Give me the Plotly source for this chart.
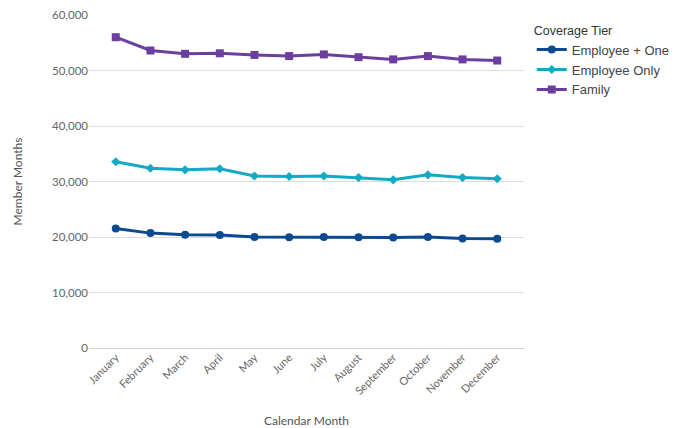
import plotly.graph_objects as go

months = ["January", "February", "March", "April", "May", "June", "July",
          "August", "September", "October", "November", "December"]
emp_plus_one = [21550, 20700, 20400, 20350, 20000, 19950, 20000, 19950, 19900, 20000, 19750, 19700]
emp_only = [33550, 32400, 32100, 32300, 31000, 30900, 31000, 30700, 30300, 31200, 30700, 30500]
family = [56000, 53600, 53000, 53100, 52800, 52600, 52900, 52400, 52000, 52600, 52000, 51800]

series = [
    ("Employee + One", emp_plus_one, "#0b4a8f", "circle", 8),
    ("Employee Only", emp_only, "#14a9c4", "diamond", 7),
    ("Family", family, "#6b3fa0", "square", 8),
]

fig = go.Figure()
for name, vals, color, sym, size in series:
    fig.add_trace(go.Scatter(
        x=months, y=vals, name=name, mode="lines+markers",
        line=dict(color=color, width=3),
        marker=dict(symbol=sym, size=size, color=color),
    ))

fig.update_layout(
    width=680, height=428,
    margin=dict(l=89, r=156, t=15, b=80),
    paper_bgcolor="white", plot_bgcolor="white",
    font=dict(family="Lato, Open Sans, sans-serif", size=11, color="#555"),
    legend=dict(
        title=dict(text="Coverage Tier",
                   font=dict(family="Liberation Sans, Arial, sans-serif", size=12.5, color="#333")),
        xref="container", yref="container",
        x=0.782, y=0.957, xanchor="left", yanchor="top",
        font=dict(family="Liberation Sans, Arial, sans-serif", size=13, color="#444"),
        tracegroupgap=0, itemwidth=30,
    ),
    xaxis=dict(
        title=dict(text="Calendar Month", font=dict(size=12, color="#555"), standoff=22),
        tickangle=-45, showgrid=False, showline=False, ticks="",
        tickfont=dict(size=11, color="#666"), automargin=False,
    ),
    yaxis=dict(
        title=dict(text="Member Months", font=dict(size=12, color="#555"), standoff=26),
        range=[0, 60000], dtick=10000, tickformat=",d",
        gridcolor="#dddddd", gridwidth=1, zeroline=True, zerolinecolor="#ccd2dd",
        zerolinewidth=1, showline=False, ticks="",
        tickfont=dict(size=11.5, color="#666"), automargin=False,
    ),
)

fig.write_html("out.html")
